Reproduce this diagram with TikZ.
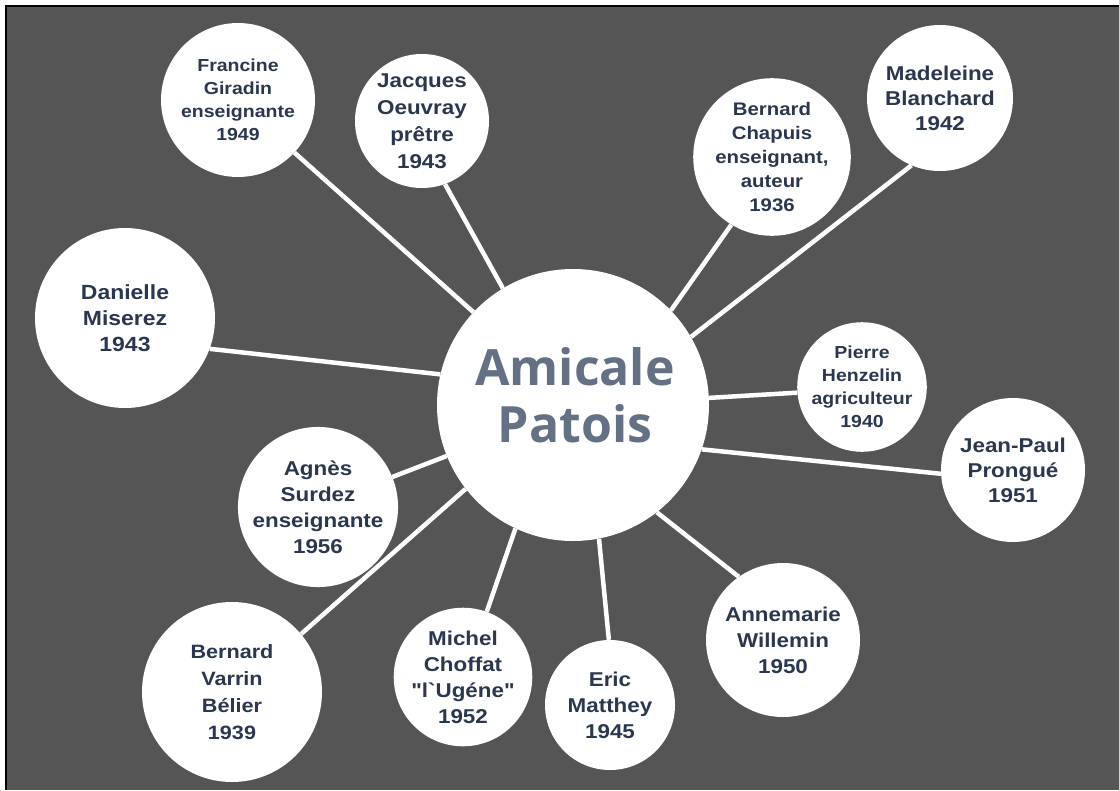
\documentclass[tikz,border=0pt]{standalone}
\usepackage{fontspec}
\setmainfont{Liberation Sans}
\newfontfamily\lab[FakeStretch=1.12]{Liberation Sans}
\newfontfamily\ttl{Open Sans}
\definecolor{bg}{RGB}{85,85,85}
\definecolor{txt}{RGB}{42,55,78}
\definecolor{tfill}{RGB}{100,112,132}
\pgfdeclarelayer{bgl}
\pgfdeclarelayer{lines}
\pgfsetlayers{bgl,lines,main}
\tikzset{
  bub/.style={circle, fill=white, inner sep=0pt, minimum size=#1, align=center, text=txt},
  fa/.style={font=\lab\bfseries\fontsize{20}{26}\selectfont},
  fb/.style={font=\lab\bfseries\fontsize{17.4}{23}\selectfont},
  fc/.style={font=\lab\bfseries\fontsize{18.2}{24}\selectfont},
  link/.style={draw=white, line width=4.5pt},
}
\begin{document}
\begin{tikzpicture}[x=1pt,y=-1pt]
\useasboundingbox (0,0) rectangle (1119,790);
\begin{pgfonlayer}{bgl}
  \fill[white] (0,0) rectangle (1119,790);
  \fill[bg] (6,6) rectangle (1119,790);
  \draw[black, line width=2.5pt] (6,790) -- (6,6) -- (1119,6);
\end{pgfonlayer}

\node[bub=272pt] (c) at (573,405) {};
\node[font=\ttl\bfseries\fontsize{50}{57}\selectfont, align=center, text=tfill] (ct) at (575,395)
  {Amicale\\Patois};

\node[bub=154pt, fb] (fra) at (238,100) {Francine\\Giradin\\enseignante\\1949};
\node[bub=134pt, fa, font=\lab\bfseries\fontsize{20}{27}\selectfont] (jac) at (422,121) {Jacques\\Oeuvray\\prêtre\\1943};
\node[bub=140pt, fc] (cha) at (772,157) {Bernard\\Chapuis\\enseignant,\\auteur\\1936};
\node[bub=146pt, fa, font=\lab\bfseries\fontsize{20}{25}\selectfont] (mad) at (940,98) {Madeleine\\Blanchard\\1942};
\node[bub=180pt, fa, font=\lab\bfseries\fontsize{20.5}{26}\selectfont] (dan) at (125,318) {Danielle\\Miserez\\1943};
\node[bub=126pt, fb] (pie) at (862,387) {Pierre\\Henzelin\\agriculteur\\1940};
\node[bub=144pt, fa, font=\lab\bfseries\fontsize{20}{25}\selectfont] (jea) at (1013,470) {Jean-Paul\\Prongué\\1951};
\node[bub=140pt, fa] (agn) at (318,507) {Agnès\\Surdez\\enseignante\\1956};
\node[bub=180pt, fa, font=\lab\bfseries\fontsize{19.3}{27}\selectfont] (var) at (232,692) {Bernard\\Varrin\\Bélier\\1939};
\node[bub=136pt, fa] (mic) at (463,677) {Michel\\Choffat\\"l`Ugéne"\\1952};
\node[bub=130pt, fa] (eri) at (610,705) {Eric\\Matthey\\1945};
\node[bub=154pt, fa] (ann) at (783,640) {Annemarie\\Willemin\\1950};

\begin{pgfonlayer}{lines}
  \draw[link] (c.137.4) -- (fra.317);
  \draw[link] (c.121) -- (jac.290);
  \draw[link] (c.44.4) -- (cha.239);
  \draw[link] (c.30.9) -- (mad.247);
  \draw[link] (c.167.3) -- (dan.340);
  \draw[link] (c.3) -- (pie.185);
  \draw[link] (c.341) -- (jea.183);
  \draw[link] (c.202.4) -- (agn.22);
  \draw[link] (c.218.2) -- (var.40);
  \draw[link] (c.245.1) -- (mic.70);
  \draw[link] (c.281.3) -- (eri.91);
  \draw[link] (c.308) -- (ann.125);
\end{pgfonlayer}
\end{tikzpicture}
\end{document}
